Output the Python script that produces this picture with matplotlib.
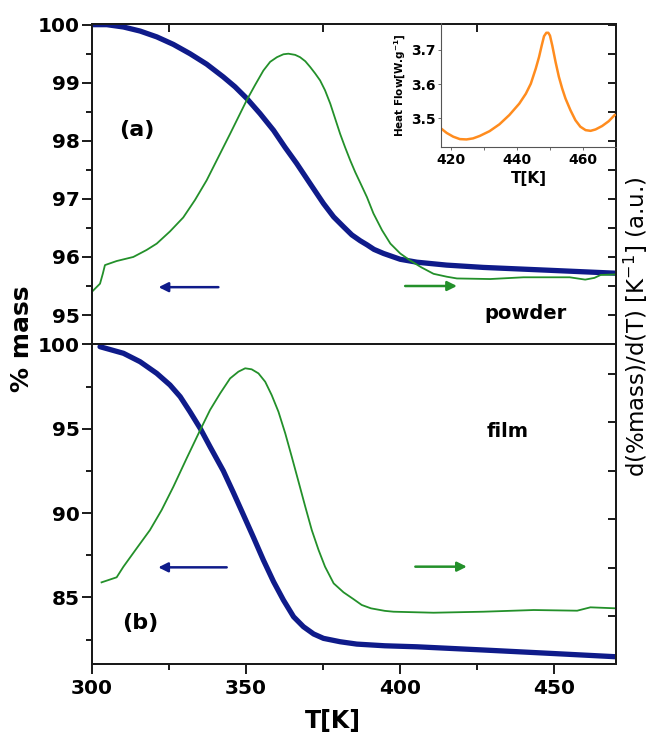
import numpy as np
import matplotlib
matplotlib.use("Agg")
import matplotlib.pyplot as plt
from matplotlib.ticker import MultipleLocator, FixedLocator, NullFormatter

plt.rcParams['font.family'] = 'DejaVu Sans'
plt.rcParams['mathtext.default'] = 'regular'

# (a) powder - mass loss
T_pow_mass = [300, 304.8, 310.2, 315.6, 321.0, 326.4, 331.8, 337.2, 342.6, 346.4, 350.2, 354.5, 358.9,
              362.6, 366.4, 370.8, 375.1, 378.4, 381.6, 384.3, 387.0, 389.2, 391.5, 394.6, 400, 405.4,
              415, 427, 448.7, 470]
mass_pow = [100.0, 100.0, 99.96, 99.89, 99.79, 99.66, 99.50, 99.32, 99.10, 98.93, 98.73, 98.47, 98.18,
            97.89, 97.61, 97.26, 96.92, 96.69, 96.52, 96.38, 96.28, 96.21, 96.13, 96.06, 95.96, 95.91,
            95.86, 95.82, 95.77, 95.72]

# (a) powder - derivative (a.u.)
T_pow_der = [299.4, 302.6, 303.5, 304.2, 308.0, 313.4, 317.7, 321.0, 325.3, 329.6, 333.4, 337.2, 341.0,
             344.8, 347.5, 350.2, 352.9, 355.6, 357.8, 360.0, 362.1, 363.7, 365.9, 367.5, 369.2, 370.8,
             372.4, 374.0, 375.6, 377.3, 378.9, 380.5, 382.1, 383.8, 385.4, 387.0, 389.2, 391.3, 394.1,
             396.8, 400, 403.2, 406.9, 410.8, 415.1, 418.4, 429.2, 440, 455, 460, 463, 465, 470]
der_pow = [95.37, 95.54, 95.71, 95.86, 95.93, 96.0, 96.12, 96.23, 96.44, 96.68, 96.98, 97.32, 97.72,
           98.12, 98.41, 98.70, 98.96, 99.21, 99.36, 99.44, 99.49, 99.50, 99.48, 99.44, 99.37, 99.27,
           99.16, 99.04, 98.87, 98.64, 98.38, 98.12, 97.89, 97.66, 97.46, 97.28, 97.03, 96.75, 96.46,
           96.23, 96.06, 95.94, 95.82, 95.71, 95.66, 95.63, 95.62, 95.65, 95.65, 95.61, 95.64, 95.69, 95.70]

# (b) film - mass loss
T_film_mass = [302.6, 310.2, 315.6, 321.0, 325.3, 328.6, 331.8, 335.1, 338.3, 342.6, 345.9, 349.1,
               352.4, 355.6, 358.9, 362.1, 365.4, 368.6, 371.9, 375.1, 380.5, 385.9, 395, 405.4, 427,
               448.7, 470]
mass_film = [99.86, 99.47, 98.97, 98.28, 97.59, 96.9, 96.0, 95.02, 93.93, 92.5, 91.2, 89.9, 88.55,
             87.21, 85.93, 84.84, 83.85, 83.26, 82.83, 82.57, 82.37, 82.23, 82.13, 82.07, 81.88, 81.68,
             81.48]

# (b) film - derivative (a.u.)
T_film_der = [303.1, 308.0, 310.2, 314.5, 318.8, 322.6, 326.4, 330.7, 335.1, 338.3, 341.6, 344.8,
              347.5, 349.7, 351.8, 354.0, 356.2, 358.3, 360.5, 362.7, 364.8, 367.0, 369.2, 371.3,
              373.5, 375.6, 378.4, 381.6, 384.8, 387.5, 390.5, 395, 397.8, 410.8, 427, 443.3, 457.4,
              461.7, 470]
der_film = [85.89, 86.19, 86.82, 87.91, 88.99, 90.18, 91.56, 93.24, 94.92, 96.11, 97.10, 97.98,
            98.38, 98.58, 98.52, 98.28, 97.78, 96.99, 96.0, 94.72, 93.34, 91.86, 90.37, 88.99,
            87.81, 86.82, 85.83, 85.3, 84.9, 84.55, 84.35, 84.2, 84.15, 84.09, 84.15, 84.25, 84.21,
            84.41, 84.35]

# inset - heat flow
T_dsc = [417.0, 418.7, 420.7, 422.7, 424.7, 426.7, 428.7, 431.7, 434.7, 437.7, 440.7, 442.7, 444.2,
         445.7, 446.7, 447.5, 448.2, 448.9, 449.5, 450.0, 450.7, 451.7, 452.7, 453.7, 454.7, 456.2,
         457.7, 459.2, 460.8, 462.3, 463.8, 465.8, 467.8, 469.6]
heat_flow = [3.471, 3.458, 3.447, 3.440, 3.439, 3.442, 3.449, 3.463, 3.483, 3.510, 3.543, 3.572, 3.601,
             3.645, 3.679, 3.712, 3.739, 3.749, 3.749, 3.741, 3.712, 3.664, 3.621, 3.587, 3.558, 3.524,
             3.495, 3.476, 3.466, 3.464, 3.468, 3.478, 3.492, 3.510]

blue = '#0f1b8a'
green = '#23902a'
orange = '#ff8c1e'
spc = '#1a1a1a'

fig = plt.figure(figsize=(6.53, 7.36), dpi=100)
L, R = 92 / 653, 616 / 653
ax1 = fig.add_axes([L, 1 - 343.5 / 736, R - L, (343.5 - 23.5) / 736])
ax2 = fig.add_axes([L, 1 - 664 / 736, R - L, (664 - 343.5) / 736])

lims = [(94.51, 100.02), (81.05, 100.05)]
for ax, ylim in zip([ax1, ax2], lims):
    ax.set_xlim(300, 470)
    ax.set_ylim(*ylim)
    for s in ax.spines.values():
        s.set_linewidth(1.4)
        s.set_color(spc)

# top panel
ax1.plot(T_pow_mass, mass_pow, color=blue, lw=3.8, solid_capstyle='round', zorder=3)
ax1r = ax1.twinx()
ax1r.set_ylim(*lims[0])
ax1r.plot(T_pow_der, der_pow, color=green, lw=1.3)
ax1.yaxis.set_major_locator(MultipleLocator(1))
ax1.yaxis.set_minor_locator(MultipleLocator(0.5))
ax1.xaxis.set_major_locator(FixedLocator([325, 375, 425]))
ax1.xaxis.set_minor_locator(FixedLocator([]))
ax1.tick_params(axis='x', which='both', bottom=False, top=True, labelbottom=False,
                direction='in', length=6, width=1.4, color=spc)
ax1r.yaxis.set_major_locator(MultipleLocator(0.5))
ax1r.yaxis.set_major_formatter(NullFormatter())

# bottom panel
ax2.plot(T_film_mass, mass_film, color=blue, lw=3.8, solid_capstyle='round', zorder=3)
ax2r = ax2.twinx()
ax2r.set_ylim(*lims[1])
ax2r.plot(T_film_der, der_film, color=green, lw=1.3)
ax2.yaxis.set_major_locator(FixedLocator([85, 90, 95, 100]))
ax2.yaxis.set_minor_locator(FixedLocator([82.5, 87.5, 92.5, 97.5]))
ax2.xaxis.set_major_locator(MultipleLocator(50))
ax2.xaxis.set_minor_locator(MultipleLocator(25))
ax2.tick_params(axis='x', which='major', direction='out', length=7, width=1.4, color=spc,
                labelsize=14.5, pad=4, top=False)
ax2.tick_params(axis='x', which='minor', direction='out', length=4, width=1.4, color=spc, top=False)
ax2r.yaxis.set_major_locator(FixedLocator(np.arange(83.9, 100, 2.87)))
ax2r.yaxis.set_major_formatter(NullFormatter())

for ax in [ax1, ax2]:
    ax.tick_params(axis='y', which='major', direction='out', length=7, width=1.4, color=spc,
                   labelsize=14.5, pad=2)
    ax.tick_params(axis='y', which='minor', direction='out', length=4, width=1.4, color=spc)
    for lab in ax.get_yticklabels() + ax.get_xticklabels():
        lab.set_fontweight('bold')
for axr in [ax1r, ax2r]:
    axr.tick_params(axis='y', direction='in', length=6, width=1.4, color=spc)
    for s in axr.spines.values():
        s.set_linewidth(1.4)
        s.set_color(spc)

# arrows and labels
aprops_b = dict(arrowstyle='-|>', color=blue, lw=1.8, mutation_scale=14, shrinkA=0, shrinkB=0)
aprops_g = dict(arrowstyle='-|>', color=green, lw=1.8, mutation_scale=14, shrinkA=0, shrinkB=0)
ax1.annotate('', xy=(321.6, 95.48), xytext=(341, 95.48), arrowprops=aprops_b)
ax1.annotate('', xy=(418.4, 95.50), xytext=(401.6, 95.50), arrowprops=aprops_g)
ax2.annotate('', xy=(321.5, 86.78), xytext=(343.7, 86.78), arrowprops=aprops_b)
ax2.annotate('', xy=(421.6, 86.82), xytext=(404.9, 86.82), arrowprops=aprops_g)

ax1.text(314.5, 98.19, '(a)', fontsize=16, fontweight='bold', ha='center', va='center')
ax2.text(315.6, 83.48, '(b)', fontsize=16, fontweight='bold', ha='center', va='center')
ax1.text(440.6, 95.03, 'powder', fontsize=14, fontweight='bold', ha='center', va='center')
ax2.text(435, 94.82, 'film', fontsize=14, fontweight='bold', ha='center', va='center')

fig.text(0.034, 1 - 338.5 / 736, '% mass', rotation=90, fontsize=18, fontweight='bold',
         ha='center', va='center')
fig.text(0.974, 1 - 326.5 / 736, r'd(%mass)/d(T) [K$^{-1}$] (a.u.)', rotation=90, fontsize=16.5,
         ha='center', va='center')
fig.text(0.509, 1 - 721 / 736, 'T[K]', fontsize=17, fontweight='bold', ha='center', va='center')

# inset
axi = fig.add_axes([441 / 653, 1 - 147 / 736, (616 - 441) / 653, (147 - 23.5) / 736])
axi.plot(T_dsc, heat_flow, color=orange, lw=1.8)
axi.set_xlim(417, 470)
axi.set_ylim(3.417, 3.776)
axi.patch.set_alpha(0)
for k in ['top', 'right']:
    axi.spines[k].set_visible(False)
for k in ['left', 'bottom']:
    axi.spines[k].set_linewidth(0.8)
    axi.spines[k].set_color('#555555')
axi.xaxis.set_major_locator(FixedLocator([420, 440, 460]))
axi.xaxis.set_minor_locator(FixedLocator([430, 450]))
axi.yaxis.set_major_locator(FixedLocator([3.5, 3.6, 3.7]))
axi.tick_params(which='both', direction='out', length=2.5, width=0.6, color='#555555',
                labelsize=10, pad=1.5)
for lab in axi.get_xticklabels() + axi.get_yticklabels():
    lab.set_fontweight('bold')
axi.set_xlabel('T[K]', fontsize=11, fontweight='bold', labelpad=3)
axi.set_ylabel(r'Heat Flow[W.g$^{-1}$]', fontsize=7.5, fontweight='bold', labelpad=2)

fig.savefig('out.png', dpi=100)
